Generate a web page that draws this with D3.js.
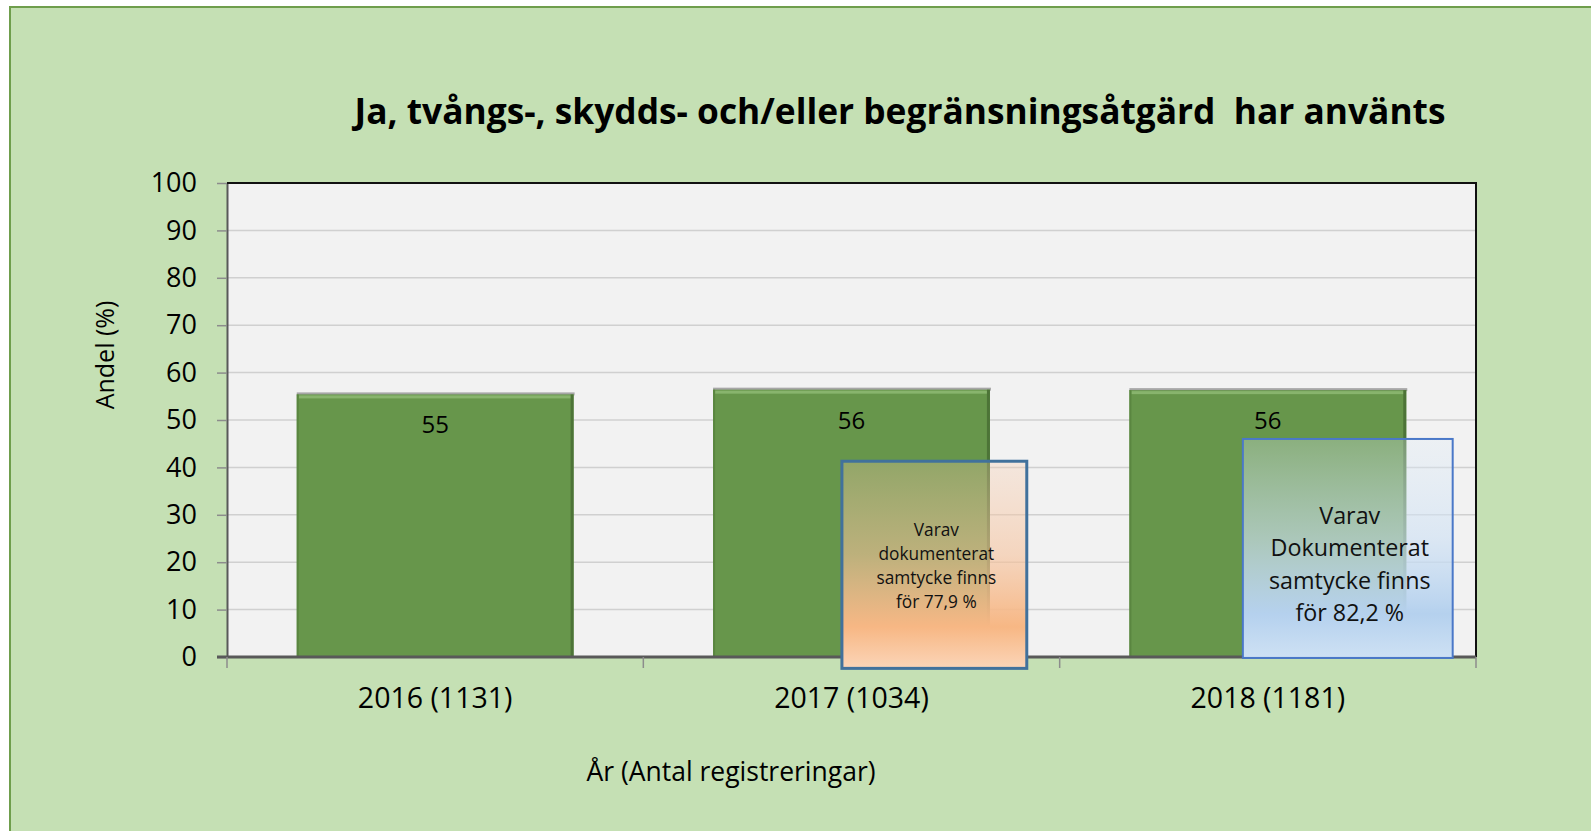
<!DOCTYPE html>
<html>
<head>
<meta charset="utf-8">
<script src="https://cdn.jsdelivr.net/npm/d3@7"></script>
<style>
  html, body { margin: 0; padding: 0; background: #fff; overflow: hidden; }
  svg { display: block; font-family: 'Open Sans', 'Noto Sans', sans-serif; }
</style>
</head>
<body>
<div id="chart"></div>
<script>
// chart data
const title = 'Ja, tvångs-, skydds- och/eller begränsningsåtgärd  har använts';
const categories = ['2016 (1131)', '2017 (1034)', '2018 (1181)'];
const values = [55.4, 56.4, 56.3];
const yTicks = [0, 10, 20, 30, 40, 50, 60, 70, 80, 90, 100];
const yLabel = 'Andel (%)';
const xLabel = 'År (Antal registreringar)';
// text boxes laid over the 2017 and 2018 bars
const noteCategories = ['2017 (1034)', '2018 (1181)'];
const noteLines = [
  ['Varav', 'dokumenterat', 'samtycke finns', 'för 77,9 %'],
  ['Varav', 'Dokumenterat', 'samtycke finns', 'för 82,2 %']
];

const W = 1591;
const H = 831;
const plot = { left: 227, right: 1476, top: 183, bottom: 657 };

const svg = d3.select('#chart')
  .append('svg')
  .attr('width', W)
  .attr('height', H);

const defs = svg.append('defs');

// outer chart background
svg.append('rect')
  .attr('x', 10).attr('y', 7)
  .attr('width', W).attr('height', H)
  .attr('fill', '#c5e0b4')
  .attr('stroke', '#6f9e4c')
  .attr('stroke-width', 2);

// title, shrunk/grown to the width it takes in the original
const titleText = svg.append('text')
  .text(title)
  .attr('x', 900)
  .attr('y', 124)
  .attr('text-anchor', 'middle')
  .attr('font-weight', 'bold')
  .attr('font-size', 34)
  .style('white-space', 'pre')
  .attr('fill', '#000');
const tw = titleText.node().getComputedTextLength();
titleText.attr('font-size', 34 * 1091 / tw);

const x = d3.scaleBand()
  .domain(categories)
  .range([plot.left, plot.right])
  .paddingInner(0.335)
  .paddingOuter(0.1675);

const y = d3.scaleLinear()
  .domain([0, 100])
  .range([plot.bottom, plot.top]);

// plot area
svg.append('rect')
  .attr('x', plot.left).attr('y', plot.top)
  .attr('width', plot.right - plot.left)
  .attr('height', plot.bottom - plot.top)
  .attr('fill', '#f2f2f2');

// gridlines
svg.append('g')
  .selectAll('line')
  .data(yTicks.slice(1))
  .enter()
  .append('line')
  .attr('x1', plot.left).attr('x2', plot.right)
  .attr('y1', d => y(d)).attr('y2', d => y(d))
  .attr('stroke', '#d0d0d0')
  .attr('stroke-width', 1.5);

// y axis
const yAxis = svg.append('g')
  .attr('transform', `translate(${plot.left},0)`)
  .call(d3.axisLeft(y).tickValues(yTicks).tickSize(10).tickPadding(20).tickSizeOuter(0));
yAxis.select('.domain').attr('stroke', '#595959').attr('stroke-width', 2);
yAxis.selectAll('.tick line').attr('stroke', '#8c8c8c').attr('stroke-width', 1.5);
yAxis.selectAll('.tick text')
  .attr('font-size', 27)
  .attr('font-family', "'Open Sans', sans-serif")
  .attr('fill', '#000');

// top and right borders of the plot
svg.append('path')
  .attr('d', `M${plot.left},${plot.top}H${plot.right}V${plot.bottom}`)
  .attr('fill', 'none')
  .attr('stroke', '#111')
  .attr('stroke-width', 2);

// bars: body, light top edge, dark right edge, grey top shadow
const bars = svg.append('g')
  .selectAll('g')
  .data(categories)
  .enter()
  .append('g');

bars.append('rect')
  .attr('x', d => x(d))
  .attr('y', (d, i) => y(values[i]) - 2)
  .attr('width', x.bandwidth() + 1)
  .attr('height', 3)
  .attr('fill', '#a6a6a6');

bars.append('rect')
  .attr('x', d => x(d))
  .attr('y', (d, i) => y(values[i]))
  .attr('width', x.bandwidth())
  .attr('height', (d, i) => y(0) - y(values[i]))
  .attr('fill', '#67964b');

bars.append('rect')
  .attr('x', d => x(d) + 2)
  .attr('y', (d, i) => y(values[i]) + 1)
  .attr('width', x.bandwidth() - 4)
  .attr('height', 3)
  .attr('fill', '#88b46d');

bars.append('rect')
  .attr('x', d => x(d) + x.bandwidth() - 3)
  .attr('y', (d, i) => y(values[i]))
  .attr('width', 3)
  .attr('height', (d, i) => y(0) - y(values[i]))
  .attr('fill', '#4d7437');

bars.append('rect')
  .attr('x', d => x(d))
  .attr('y', (d, i) => y(values[i]))
  .attr('width', 2)
  .attr('height', (d, i) => y(0) - y(values[i]))
  .attr('fill', '#5a8640');

// value labels
bars.append('text')
  .text((d, i) => d3.format('.0f')(values[i]))
  .attr('x', d => x(d) + x.bandwidth() / 2)
  .attr('y', (d, i) => y(values[i]) + 39)
  .attr('text-anchor', 'middle')
  .attr('font-size', 24)
  .attr('fill', '#000');

// x axis
const xAxis = svg.append('g')
  .attr('transform', `translate(0,${plot.bottom})`)
  .call(d3.axisBottom(x).tickSize(0).tickPadding(31).tickSizeOuter(0));
xAxis.select('.domain').remove();
xAxis.selectAll('.tick text')
  .attr('font-size', 28.5)
  .attr('font-family', "'Open Sans', sans-serif")
  .attr('fill', '#000');

svg.append('line')
  .attr('x1', plot.left - 10).attr('x2', plot.right)
  .attr('y1', plot.bottom).attr('y2', plot.bottom)
  .attr('stroke', '#595959')
  .attr('stroke-width', 3);

// category boundary ticks
const bounds = categories.map(d => x(d) - x.step() * x.paddingInner() / 2);
bounds.push(plot.right);
svg.append('g')
  .selectAll('line')
  .data(bounds)
  .enter()
  .append('line')
  .attr('x1', d => d).attr('x2', d => d)
  .attr('y1', plot.bottom).attr('y2', plot.bottom + 11)
  .attr('stroke', '#8c8c8c')
  .attr('stroke-width', 1.5);

// axis titles
svg.append('text')
  .text(yLabel)
  .attr('transform', 'translate(114,355) rotate(-90)')
  .attr('text-anchor', 'middle')
  .attr('font-size', 25)
  .attr('fill', '#000');

svg.append('text')
  .text(xLabel)
  .attr('x', 731)
  .attr('y', 781)
  .attr('text-anchor', 'middle')
  .attr('font-size', 26.5)
  .attr('fill', '#000');

// note boxes (layout: fraction of the band step, value range on y)
const noteLayout = [
  { x0: 0.477, x1: 0.921, top: 41.3, bottom: -2.4, stroke: '#41719c', sw: 3, fs: 17.3, lh: 24, dy: 1 },
  { x0: 0.44, x1: 0.944, top: 46.0, bottom: -0.2, stroke: '#4a78c8', sw: 2, fs: 23.3, lh: 32.5, dy: 16 }
];
const noteFills = [
  [[0, '#f7cbac', 0.3], [0.45, '#f6c29c', 0.6], [0.8, '#f7b784', 1], [1, '#fbd5b8', 1]],
  [[0, '#deebf7', 0.3], [0.45, '#cfe1f4', 0.65], [0.8, '#b5d1ee', 1], [1, '#cee1f4', 1]]
];

noteFills.forEach((stops, i) => {
  const g = defs.append('linearGradient')
    .attr('id', `note-fill-${i}`)
    .attr('x1', 0).attr('y1', 0).attr('x2', 0).attr('y2', 1);
  stops.forEach(s => {
    g.append('stop')
      .attr('offset', s[0])
      .attr('stop-color', s[1])
      .attr('stop-opacity', s[2]);
  });
});

const notes = svg.append('g')
  .selectAll('g')
  .data(noteCategories)
  .enter()
  .append('g');

notes.each(function (cat, i) {
  const l = noteLayout[i];
  const bandStart = x(cat) - x.step() * x.paddingInner() / 2;
  const bx0 = bandStart + l.x0 * x.step();
  const bx1 = bandStart + l.x1 * x.step();
  const by0 = y(l.top);
  const by1 = y(l.bottom);
  const g = d3.select(this);

  g.append('rect')
    .attr('x', bx0).attr('y', by0)
    .attr('width', bx1 - bx0).attr('height', by1 - by0)
    .attr('fill', `url(#note-fill-${i})`)
    .attr('stroke', l.stroke)
    .attr('stroke-width', l.sw);

  const lines = noteLines[i];
  const cy = (by0 + by1) / 2 + l.dy;
  g.selectAll('text')
    .data(lines)
    .enter()
    .append('text')
    .text(d => d)
    .attr('x', (bx0 + bx1) / 2 + 2)
    .attr('y', (d, j) => cy + (j - (lines.length - 1) / 2) * l.lh)
    .attr('dy', '0.35em')
    .attr('text-anchor', 'middle')
    .attr('font-size', l.fs)
    .attr('fill', '#111');
});
</script>
</body>
</html>
